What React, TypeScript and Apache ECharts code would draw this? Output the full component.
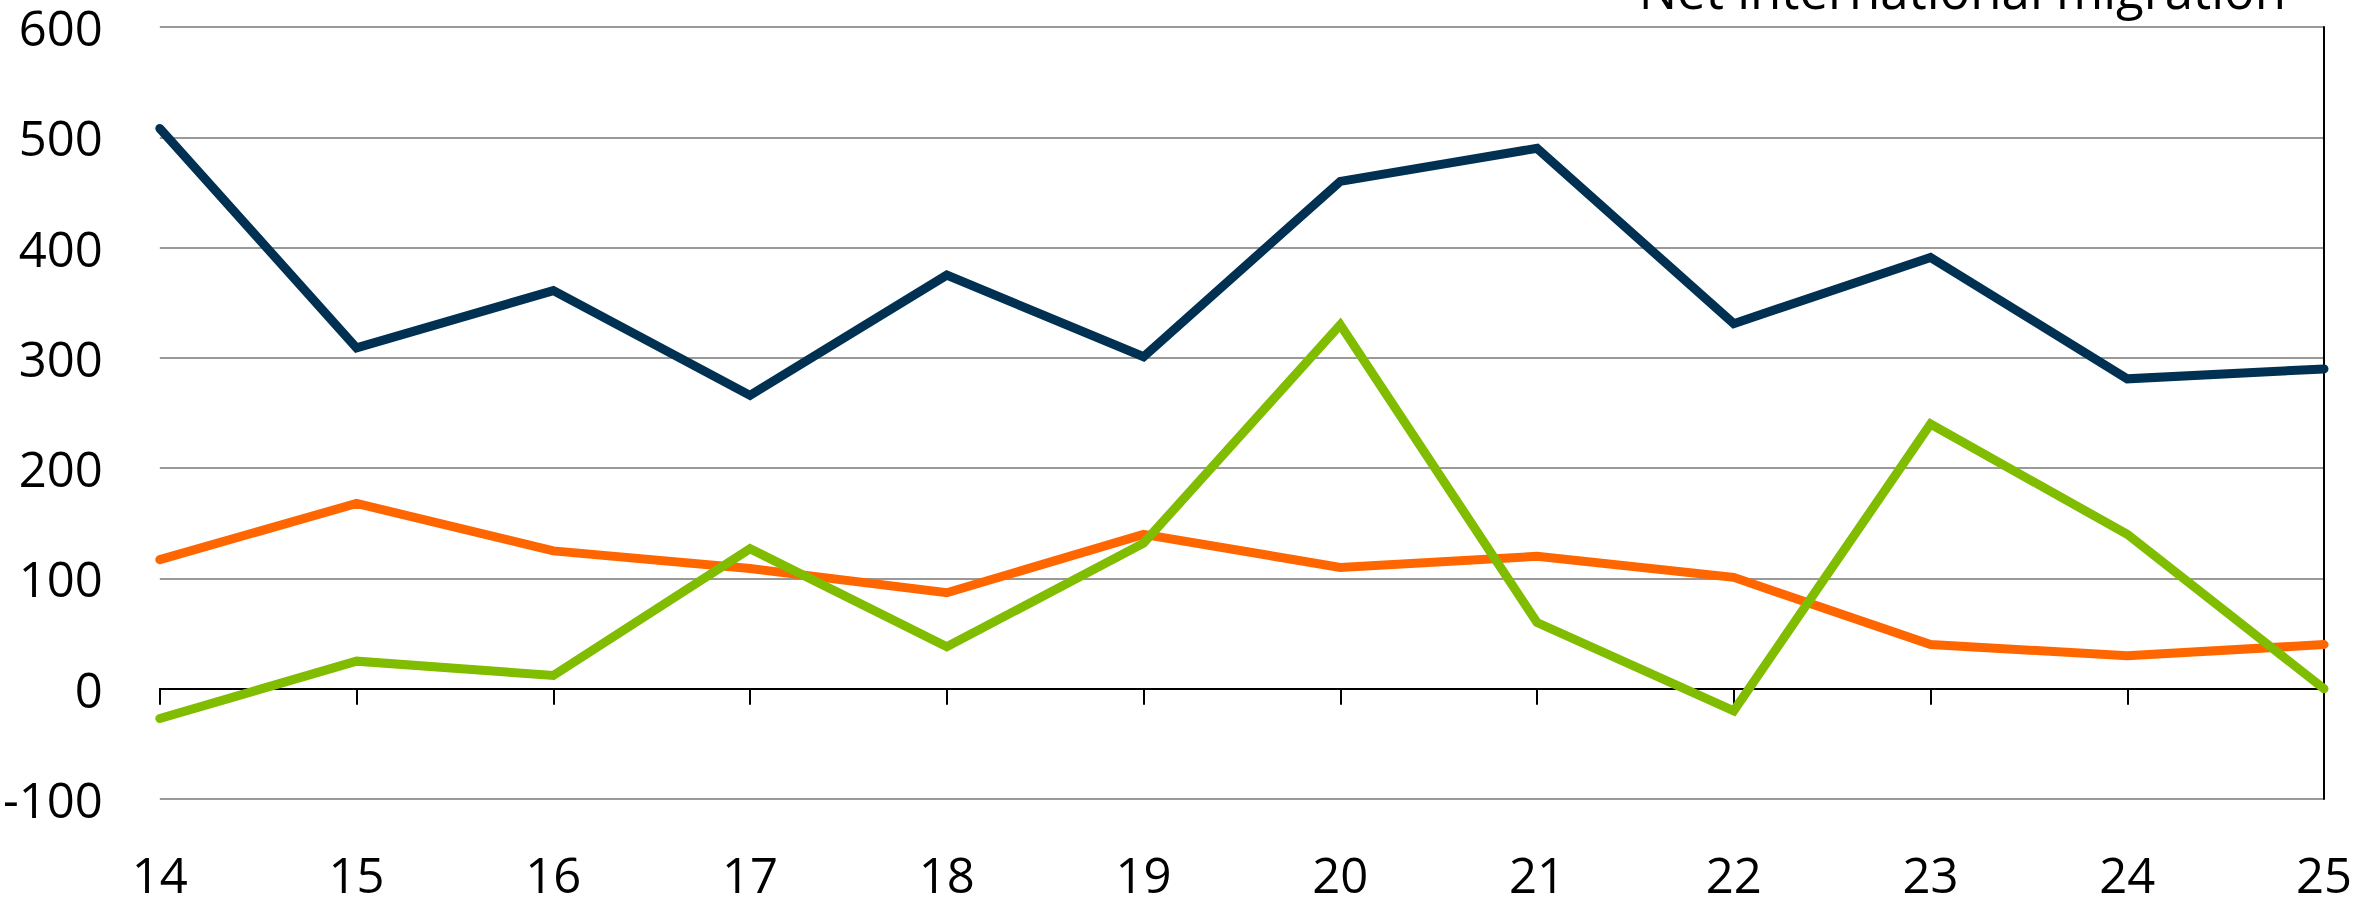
import React, { useEffect, useRef } from "react";
import * as echarts from "echarts";

const years = ["14", "15", "16", "17", "18", "19", "20", "21", "22", "23", "24", "25"];
const navySeries = [508, 309, 361, 266, 375, 301, 460, 490, 331, 391, 281, 290];
const orangeSeries = [117, 168, 125, 109, 87, 140, 110, 120, 101, 40, 30, 40];
const greenSeries = [-27, 25, 12, 127, 38, 132, 330, 60, -20, 240, 140, 0];
const titleText = "Net international migration";

const FONT = "'Open Sans', 'Noto Sans', sans-serif";

export default function App() {
  const ref = useRef<HTMLDivElement>(null);
  useEffect(() => {
    if (!ref.current) return;
    const chart = echarts.init(ref.current, null, { renderer: "svg" });
    const lineSeries = (name: string, data: number[], color: string) => ({
      name,
      type: "line",
      data,
      xAxisIndex: 0,
      yAxisIndex: 0,
      symbol: "none",
      lineStyle: { color, width: 9, cap: "round", join: "miter" },
      z: 5,
    });
    chart.setOption({
      animation: false,
      backgroundColor: "#ffffff",
      textStyle: { fontFamily: FONT },
      grid: { left: 155, right: 32, top: 27, bottom: 104, containLabel: false },
      graphic: [
        {
          type: "text",
          right: 70,
          top: -37,
          style: {
            text: titleText,
            fontSize: 51,
            fontFamily: FONT,
            fill: "#000",
          },
        },
      ],
      xAxis: [
        {
          type: "category",
          data: years,
          boundaryGap: false,
          position: "bottom",
          axisLine: { show: false, onZero: false },
          axisTick: { show: false },
          splitLine: { show: false },
          axisLabel: { fontSize: 49, color: "#000", margin: 50, fontFamily: FONT },
        },
        {
          type: "category",
          data: years,
          boundaryGap: false,
          position: "bottom",
          axisLine: { show: true, onZero: true, lineStyle: { color: "#000", width: 2 } },
          axisTick: { show: true, length: 16, alignWithLabel: true, lineStyle: { color: "#000", width: 2 } },
          axisLabel: { show: false },
          splitLine: { show: false },
        },
      ],
      yAxis: [
        {
          type: "value",
          min: -100,
          max: 600,
          interval: 100,
          axisLine: { show: false },
          axisTick: { show: false },
          axisLabel: { fontSize: 49, color: "#000", margin: 57, fontFamily: FONT },
          splitLine: { show: true, lineStyle: { color: "#999999", width: 2 } },
        },
        {
          type: "value",
          position: "right",
          min: -100,
          max: 600,
          interval: 100,
          axisLine: { show: true, lineStyle: { color: "#000", width: 2 } },
          axisTick: { show: false },
          axisLabel: { show: false },
          splitLine: { show: false },
        },
      ],
      series: [
        lineSeries("Series A", navySeries, "#003152"),
        lineSeries("Series B", orangeSeries, "#ff6600"),
        lineSeries("Series C", greenSeries, "#80bc00"),
      ],
    });
    return () => chart.dispose();
  }, []);
  return (
    <div
      ref={ref}
      style={{ position: "absolute", left: 0, top: 0, width: 2356, height: 903 }}
    />
  );
}
